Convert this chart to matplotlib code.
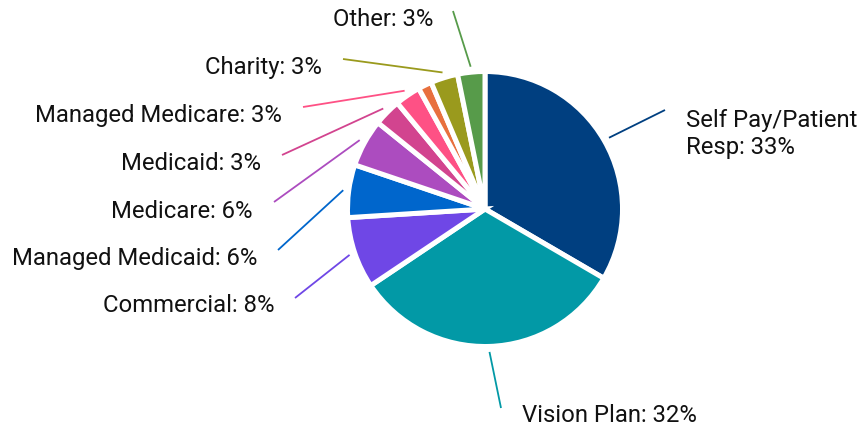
import numpy as np
import matplotlib.pyplot as plt

plt.rcParams['font.family'] = ['Roboto', 'DejaVu Sans']

# slice data (clockwise from 12 o'clock)
names = ["Self Pay/Patient\nResp", "Vision Plan", "Commercial", "Managed Medicaid",
         "Medicare", "Medicaid", "Managed Medicare", "Unknown", "Charity", "Other"]
shares = [33.4, 32.2, 8.4, 6.2, 5.6, 3.2, 3.0, 1.6, 3.2, 3.2]
shown = [True, True, True, True, True, True, True, False, True, True]
colors = ["#003f80", "#0299a6", "#6f47e6", "#0066cc", "#ac4cbf",
          "#d2448f", "#fe5185", "#e8703e", "#9a9a1d", "#579b4a"]

W, H = 863, 428
# label layout in pixels: (line end x, line end y, text x, text y, ha)
layout = {
    "Self Pay/Patient\nResp": (665, 110, 686, 134, "left"),
    "Vision Plan": (501, 408, 522, 416, "left"),
    "Commercial": (295, 298, 274, 306, "right"),
    "Managed Medicaid": (278, 250, 257, 259, "right"),
    "Medicare": (274, 202, 252, 211, "right"),
    "Medicaid": (282, 155, 261, 163, "right"),
    "Managed Medicare": (303, 107, 282, 115, "right"),
    "Charity": (343, 59, 322, 67, "right"),
    "Other": (453, 11, 433, 19, "right"),
}

fig = plt.figure(figsize=(W / 100, H / 100), dpi=100)
ax = fig.add_axes([0, 0, 1, 1])

cx, cy, R = 485, H - 209, 137.5
wedges, _ = ax.pie(shares, colors=colors, startangle=90, counterclock=False,
                   center=(cx, cy), radius=R,
                   wedgeprops=dict(edgecolor="white", linewidth=3.6))
ax.set_xlim(0, W)
ax.set_ylim(0, H)
ax.set_aspect("equal")
ax.axis("off")

for w, name, show, col, val in zip(wedges, names, shown, colors, shares):
    if not show:
        continue
    mid = np.deg2rad((w.theta1 + w.theta2) / 2)
    sx = cx + R * 1.04 * np.cos(mid)
    sy = cy + R * 1.04 * np.sin(mid)
    ex, ey, tx, ty, ha = layout[name]
    ax.plot([sx, ex], [sy, H - ey], color=col, lw=1.3, solid_capstyle="butt")
    ax.text(tx, H - ty, f"{name}: {round(val)}%", ha=ha, va="center",
            fontsize=17.2, color="#111111", linespacing=1.25)

fig.savefig("out.png", dpi=100)
